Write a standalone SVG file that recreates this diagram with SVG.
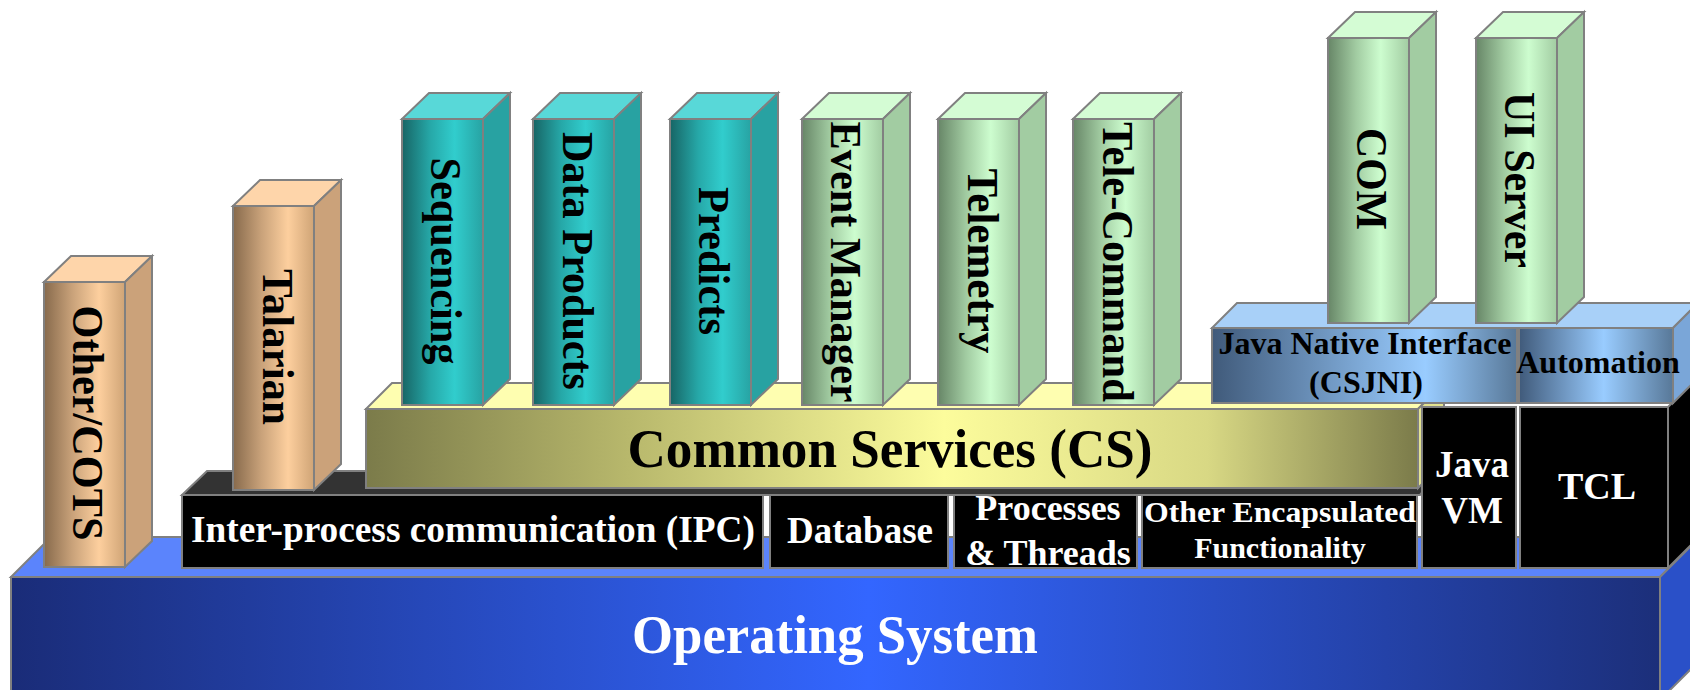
<svg xmlns="http://www.w3.org/2000/svg" width="1690" height="690" viewBox="0 0 1690 690">
<style>
.s{stroke:#808080;stroke-width:2;stroke-linejoin:miter}
.pt{font-family:"Liberation Serif","Times New Roman",serif;font-weight:bold;font-size:45px;fill:#000;text-anchor:middle}
.wt{font-family:"Liberation Serif","Times New Roman",serif;font-weight:bold;fill:#fff;text-anchor:middle}
.bt{font-family:"Liberation Serif","Times New Roman",serif;font-weight:bold;fill:#000;text-anchor:middle}
.blk{fill:#000;stroke:#808080;stroke-width:2}
</style>
<defs>
<linearGradient id="gTan" x1="0" y1="0" x2="1" y2="0"><stop offset="0" stop-color="#876a4c"/><stop offset="0.35" stop-color="#c9a27a"/><stop offset="0.68" stop-color="#fdcf9e"/><stop offset="1" stop-color="#cfa476"/></linearGradient>
<linearGradient id="gTeal" x1="0" y1="0" x2="1" y2="0"><stop offset="0" stop-color="#176565"/><stop offset="0.35" stop-color="#26a8a8"/><stop offset="0.65" stop-color="#31cdcd"/><stop offset="1" stop-color="#27a3a3"/></linearGradient>
<linearGradient id="gGreen" x1="0" y1="0" x2="1" y2="0"><stop offset="0" stop-color="#678667"/><stop offset="0.35" stop-color="#a2cca2"/><stop offset="0.65" stop-color="#cdfdcf"/><stop offset="1" stop-color="#a2cca2"/></linearGradient>
<linearGradient id="gCS" x1="0" y1="0" x2="1" y2="0"><stop offset="0" stop-color="#7b7b4a"/><stop offset="0.25" stop-color="#b8b86c"/><stop offset="0.55" stop-color="#fcfc9c"/><stop offset="0.8" stop-color="#d8d884"/><stop offset="1" stop-color="#7b7b4a"/></linearGradient>
<linearGradient id="gJNI" x1="0" y1="0" x2="1" y2="0"><stop offset="0" stop-color="#405a7a"/><stop offset="0.7" stop-color="#99ccff"/><stop offset="1" stop-color="#587898"/></linearGradient>
<linearGradient id="gAuto" x1="0" y1="0" x2="1" y2="0"><stop offset="0" stop-color="#405a7a"/><stop offset="0.55" stop-color="#99ccff"/><stop offset="1" stop-color="#587898"/></linearGradient>
<linearGradient id="gOS" x1="0" y1="0" x2="1" y2="0"><stop offset="0" stop-color="#1a2c78"/><stop offset="0.52" stop-color="#3366ff"/><stop offset="1" stop-color="#1c2f7a"/></linearGradient>
</defs>

<g id="os">
<polygon class="s" points="11,577 51,537 1700,537 1660,577" fill="#5b84fc"/>
<polygon class="s" points="1660,577 1700,537 1700,660 1660,700" fill="#2a50c8"/>
<rect class="s" x="11" y="577" width="1649" height="130" fill="url(#gOS)"/>
<text class="wt" x="835" y="653" font-size="55" textLength="406" lengthAdjust="spacingAndGlyphs">Operating System</text>
</g>

<g id="ipc">
<polygon class="s" points="182,495 207,471 1440,471 1420,495" fill="#333333"/>
<rect class="blk" x="182" y="495" width="581" height="73"/>
<text class="wt" x="473" y="542" font-size="37" textLength="564" lengthAdjust="spacingAndGlyphs">Inter-process communication (IPC)</text>
</g>
<g id="database">
<rect class="blk" x="770" y="495" width="178" height="73"/>
<text class="wt" x="860" y="543" font-size="37">Database</text>
</g>
<g id="processes">
<rect class="blk" x="954" y="495" width="183" height="73"/>
<text class="wt" x="1048" y="520" font-size="36">Processes</text>
<text class="wt" x="1048" y="565" font-size="36">&amp; Threads</text>
</g>
<g id="other-encapsulated">
<rect class="blk" x="1142" y="495" width="275" height="73"/>
<text class="wt" x="1280" y="522" font-size="30" textLength="272" lengthAdjust="spacingAndGlyphs">Other Encapsulated</text>
<text class="wt" x="1280" y="558" font-size="30">Functionality</text>
</g>
<g id="tcl">
<polygon class="s" points="1668,407 1694,381 1694,542 1668,568" fill="#000"/>
<rect class="blk" x="1520" y="407" width="148" height="161"/>
<text class="wt" x="1597" y="499" font-size="38">TCL</text>
</g>

<g id="other-cots">
<g transform="translate(44,282)">
<polygon class="s" points="0,0 27,-26 108,-26 81,0" fill="#fed5aa"/>
<polygon class="s" points="81,0 108,-26 108,259 81,285" fill="#cba27a"/>
<rect class="s" x="0" y="0" width="81" height="285" fill="url(#gTan)"/>
<text class="pt" transform="translate(28.5,141) rotate(90)" textLength="235" lengthAdjust="spacingAndGlyphs">Other/COTS</text>
</g>
</g>
<g id="talarian">
<g transform="translate(233,206)">
<polygon class="s" points="0,0 27,-26 108,-26 81,0" fill="#fed5aa"/>
<polygon class="s" points="81,0 108,-26 108,258 81,284" fill="#cba27a"/>
<rect class="s" x="0" y="0" width="81" height="284" fill="url(#gTan)"/>
<text class="pt" transform="translate(29.5,141) rotate(90)" textLength="156" lengthAdjust="spacingAndGlyphs">Talarian</text>
</g>
</g>

<g id="common-services">
<polygon class="s" points="366,409 392,383 1444,383 1418,409" fill="#fefeb0"/>
<polygon class="s" points="1418,409 1444,383 1444,462 1418,488" fill="#e4e490"/>
<rect class="s" x="366" y="409" width="1052" height="79" fill="url(#gCS)"/>
<text class="bt" x="890" y="467" font-size="55" textLength="525" lengthAdjust="spacingAndGlyphs">Common Services (CS)</text>
</g>

<g id="java-vm">
<rect class="blk" x="1422" y="407" width="94" height="161"/>
<text class="wt" x="1472" y="477" font-size="37">Java</text>
<text class="wt" x="1472" y="523" font-size="37">VM</text>
</g>

<g id="jni">
<polygon class="s" points="1212,328 1237,303 1698,303 1673,328" fill="#a8d0f8"/>
<rect class="s" x="1212" y="328" width="305" height="75" fill="url(#gJNI)"/>
<text class="bt" x="1365" y="354" font-size="32" textLength="293" lengthAdjust="spacingAndGlyphs">Java Native Interface</text>
<text class="bt" x="1366" y="393" font-size="32">(CSJNI)</text>
</g>
<g id="automation">
<polygon class="s" points="1673,328 1698,303 1698,378 1673,403" fill="#7aa6d8"/>
<rect class="s" x="1519" y="328" width="154" height="75" fill="url(#gAuto)"/>
<text class="bt" x="1598" y="373" font-size="32">Automation</text>
</g>

<g id="sequencing">
<g transform="translate(402,119)">
<polygon class="s" points="0,0 27,-26 108,-26 81,0" fill="#58d8d8"/>
<polygon class="s" points="81,0 108,-26 108,260 81,286" fill="#28a2a2"/>
<rect class="s" x="0" y="0" width="81" height="286" fill="url(#gTeal)"/>
<text class="pt" transform="translate(28.5,142) rotate(90)" textLength="207" lengthAdjust="spacingAndGlyphs">Sequencing</text>
</g>
</g>
<g id="data-products">
<g transform="translate(533,119)">
<polygon class="s" points="0,0 27,-26 108,-26 81,0" fill="#58d8d8"/>
<polygon class="s" points="81,0 108,-26 108,260 81,286" fill="#28a2a2"/>
<rect class="s" x="0" y="0" width="81" height="286" fill="url(#gTeal)"/>
<text class="pt" transform="translate(29.5,142) rotate(90)" textLength="258" lengthAdjust="spacingAndGlyphs">Data Products</text>
</g>
</g>
<g id="predicts">
<g transform="translate(670,119)">
<polygon class="s" points="0,0 27,-26 108,-26 81,0" fill="#58d8d8"/>
<polygon class="s" points="81,0 108,-26 108,260 81,286" fill="#28a2a2"/>
<rect class="s" x="0" y="0" width="81" height="286" fill="url(#gTeal)"/>
<text class="pt" transform="translate(29,142) rotate(90)" textLength="148" lengthAdjust="spacingAndGlyphs">Predicts</text>
</g>
</g>
<g id="event-manager">
<g transform="translate(802,119)">
<polygon class="s" points="0,0 27,-26 108,-26 81,0" fill="#d4fcd4"/>
<polygon class="s" points="81,0 108,-26 108,260 81,286" fill="#a2cca2"/>
<rect class="s" x="0" y="0" width="81" height="286" fill="url(#gGreen)"/>
<text class="pt" transform="translate(29,143) rotate(90)" textLength="281" lengthAdjust="spacingAndGlyphs">Event Manager</text>
</g>
</g>
<g id="telemetry">
<g transform="translate(938,119)">
<polygon class="s" points="0,0 27,-26 108,-26 81,0" fill="#d4fcd4"/>
<polygon class="s" points="81,0 108,-26 108,260 81,286" fill="#a2cca2"/>
<rect class="s" x="0" y="0" width="81" height="286" fill="url(#gGreen)"/>
<text class="pt" transform="translate(29.5,142) rotate(90)" textLength="185" lengthAdjust="spacingAndGlyphs">Telemetry</text>
</g>
</g>
<g id="tele-command">
<g transform="translate(1073,119)">
<polygon class="s" points="0,0 27,-26 108,-26 81,0" fill="#d4fcd4"/>
<polygon class="s" points="81,0 108,-26 108,260 81,286" fill="#a2cca2"/>
<rect class="s" x="0" y="0" width="81" height="286" fill="url(#gGreen)"/>
<text class="pt" transform="translate(29.5,143) rotate(90)" textLength="280" lengthAdjust="spacingAndGlyphs">Tele-Command</text>
</g>
</g>
<g id="com">
<g transform="translate(1328,38)">
<polygon class="s" points="0,0 27,-26 108,-26 81,0" fill="#d4fcd4"/>
<polygon class="s" points="81,0 108,-26 108,259 81,285" fill="#a2cca2"/>
<rect class="s" x="0" y="0" width="81" height="285" fill="url(#gGreen)"/>
<text class="pt" transform="translate(29,141) rotate(90)" textLength="102" lengthAdjust="spacingAndGlyphs">COM</text>
</g>
</g>
<g id="ui-server">
<g transform="translate(1476,38)">
<polygon class="s" points="0,0 27,-26 108,-26 81,0" fill="#d4fcd4"/>
<polygon class="s" points="81,0 108,-26 108,259 81,285" fill="#a2cca2"/>
<rect class="s" x="0" y="0" width="81" height="285" fill="url(#gGreen)"/>
<text class="pt" transform="translate(29,142) rotate(90)" textLength="176" lengthAdjust="spacingAndGlyphs">UI Server</text>
</g>
</g>
<g id="connectors"></g>
</svg>
